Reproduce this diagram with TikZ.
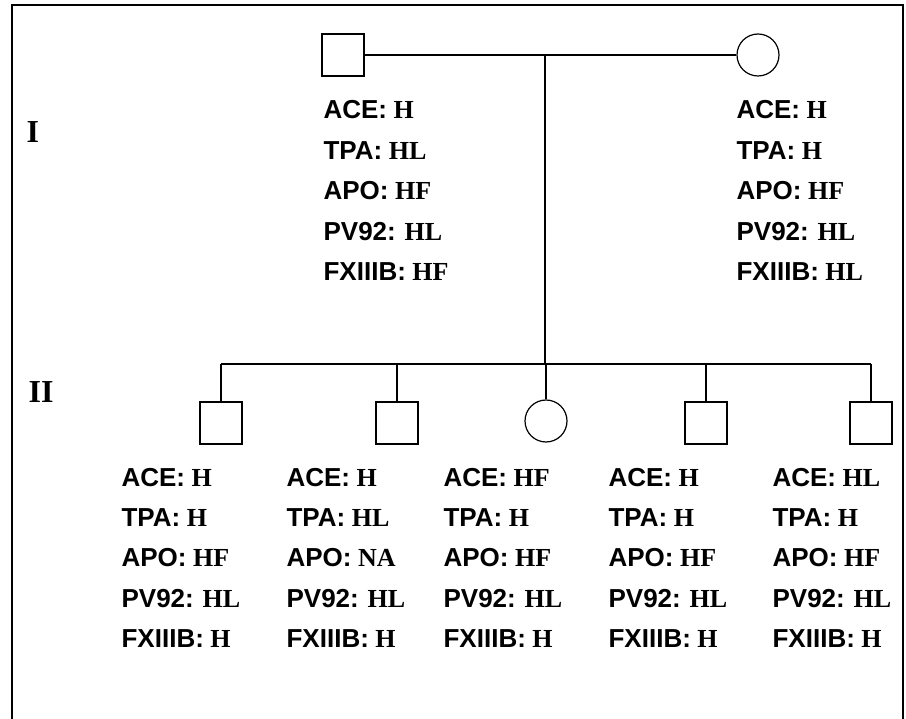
\documentclass[tikz,border=0pt]{standalone}
\usepackage{fontspec}
\setmainfont{Liberation Serif}
\newfontfamily\locusfont{Liberation Sans}

% marker name in sans bold, genotype in serif bold
\newcommand{\locus}[2]{{\locusfont\bfseries #1:} \textbf{#2}}

\tikzset{
  male/.style={draw, rectangle, minimum size=42pt, inner sep=0pt},
  female/.style={draw, circle, minimum size=42pt, inner sep=0pt},
  typing/.style={anchor=base west, inner sep=0pt, font=\fontsize{26}{30}\selectfont},
  generation/.style={anchor=base west, inner sep=0pt, font=\fontsize{32}{36}\selectfont\bfseries},
}

\begin{document}
\begin{tikzpicture}[x=1pt, y=-1pt, line width=1.2pt]

\clip (0,0) rectangle (906,719);
\draw (12,5) rectangle (903,760);

\node[generation] (gI) at (26,143) {I};
\node[generation] (gII) at (28,403) {II};

% parents
\node[male] (father) at (343,55) {};
\node[female] (mother) at (758,55) {};
\coordinate (mate) at (545,55);
\coordinate (sibs) at (545,364);

\draw (father) -- (mother);
\draw (mate) -- (sibs);

% children
\node[male] (c1) at (221,423) {};
\node[male] (c2) at (397,423) {};
\node[female] (c3) at (546,421) {};
\node[male] (c4) at (706,423) {};
\node[male] (c5) at (871,423) {};

\coordinate (s1) at (221,364);
\coordinate (s5) at (871,364);
\draw (s1) -- (s5);
\foreach \kid/\x in {c1/221,c2/397,c3/546,c4/706,c5/871}
  \draw (\x,364) -- (\kid);

% typing results
\foreach \who/\x/\y/\a/\b/\c/\d/\e in {
    fa/323/119/H/HL/HF/HL/HF,
    mo/736/119/H/H/HF/HL/HL,
    k1/121/486/H/H/HF/HL/H,
    k2/286/486/H/HL/NA/HL/H,
    k3/443/486/HF/H/HF/HL/H,
    k4/608/486/H/H/HF/HL/H,
    k5/772/486/HL/H/HF/HL/H}
{
  \node[typing] (\who-ace) at (\x,\y) {\locus{ACE}{\a}};
  \node[typing] (\who-tpa) at (\x,\y+40.4) {\locus{TPA}{\b}};
  \node[typing] (\who-apo) at (\x,\y+80.8) {\locus{APO}{\c}};
  \node[typing] (\who-pv) at (\x,\y+121.2) {\locus{PV92}{\d}};
  \node[typing] (\who-fx) at (\x,\y+161.6) {\locus{FXIIIB}{\e}};
}
\end{tikzpicture}
\end{document}
